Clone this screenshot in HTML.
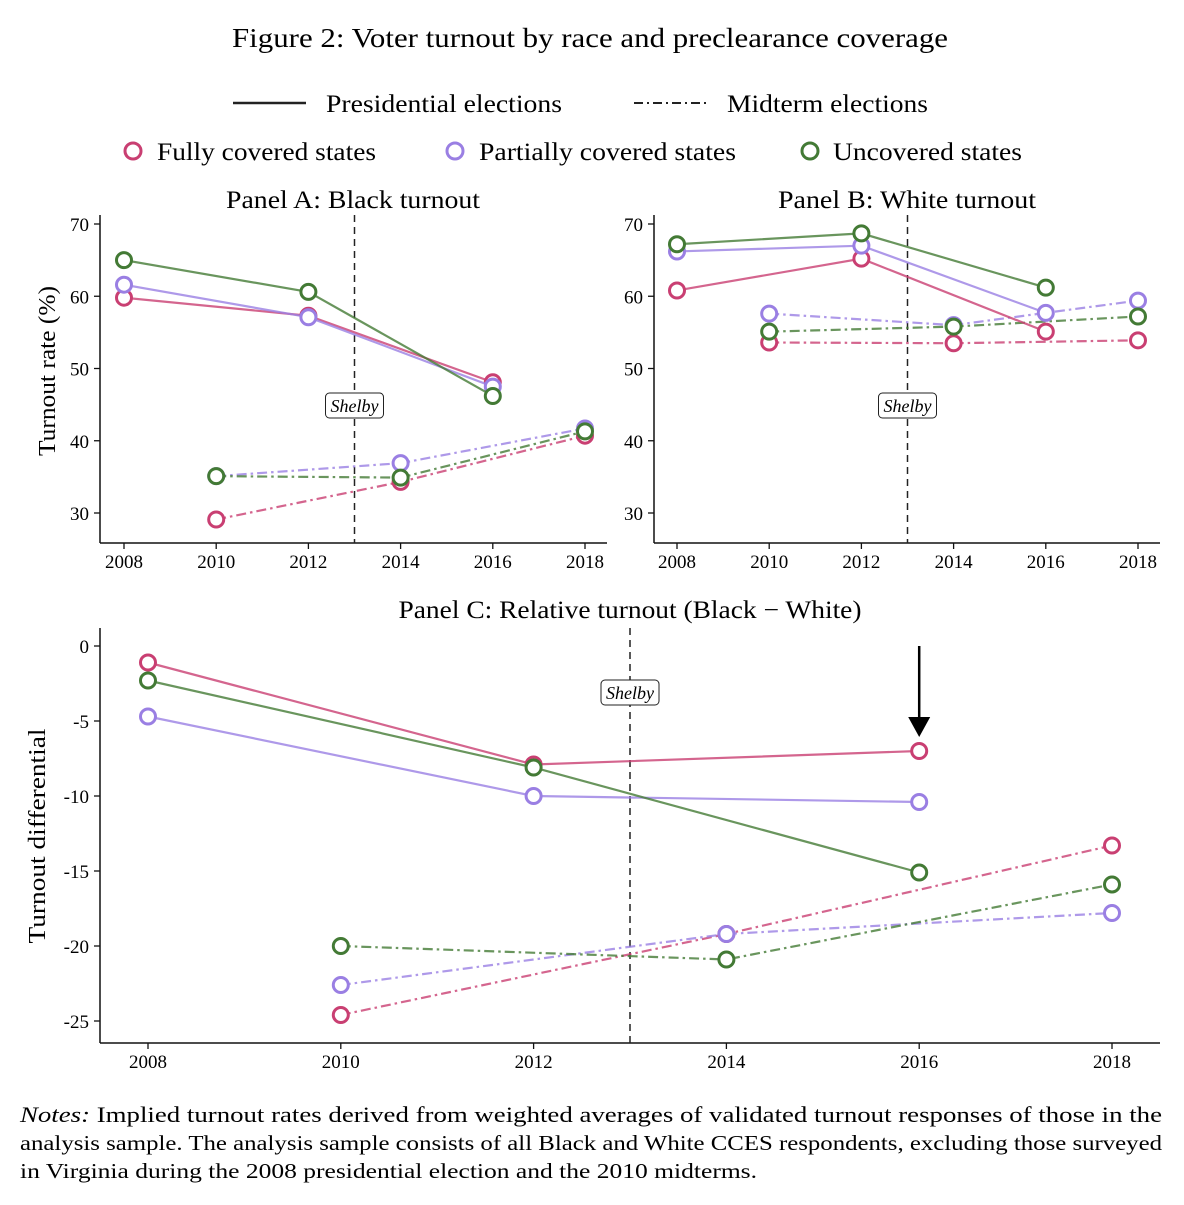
<!DOCTYPE html>
<html><head><meta charset="utf-8"><style>
body{margin:0;background:#fff;}
svg text{font-family:"Liberation Serif",serif;fill:#000;}
</style></head><body>
<svg id="c" width="1184" height="1200" xmlns="http://www.w3.org/2000/svg">
<text x="232" y="47" font-size="27" textLength="716" lengthAdjust="spacingAndGlyphs">Figure 2: Voter turnout by race and preclearance coverage</text>
<g>
<line x1="233" y1="103" x2="306" y2="103" stroke="#222" stroke-width="2.5"/>
<text x="326" y="112" font-size="25" textLength="236" lengthAdjust="spacingAndGlyphs">Presidential elections</text>
<line x1="634" y1="103" x2="708" y2="103" stroke="#222" stroke-width="2" stroke-dasharray="9,4,2,4"/>
<text x="727" y="112" font-size="25" textLength="201" lengthAdjust="spacingAndGlyphs">Midterm elections</text>
<circle cx="133" cy="151" r="8" fill="#fff" stroke="#c93f72" stroke-width="3"/>
<text x="157" y="160" font-size="25" textLength="219" lengthAdjust="spacingAndGlyphs">Fully covered states</text>
<circle cx="455" cy="151" r="8" fill="#fff" stroke="#9a7fe3" stroke-width="3"/>
<text x="479" y="160" font-size="25" textLength="257" lengthAdjust="spacingAndGlyphs">Partially covered states</text>
<circle cx="810" cy="151" r="8" fill="#fff" stroke="#437a35" stroke-width="3"/>
<text x="833" y="160" font-size="25" textLength="189" lengthAdjust="spacingAndGlyphs">Uncovered states</text>
</g>
<text x="20" y="1122" font-size="22" textLength="1142" lengthAdjust="spacingAndGlyphs"><tspan font-style="italic">Notes:</tspan> Implied turnout rates derived from weighted averages of validated turnout responses of those in the</text>
<text x="20" y="1150" font-size="21" textLength="1142" lengthAdjust="spacingAndGlyphs">analysis sample. The analysis sample consists of all Black and White CCES respondents, excluding those surveyed</text>
<text x="20" y="1178" font-size="21" textLength="737" lengthAdjust="spacingAndGlyphs">in Virginia during the 2008 presidential election and the 2010 midterms.</text>
</svg>
<script>
const presYears=[2008,2012,2016];
const midYears=[2010,2014,2018];
const aPresFully=[59.8,57.3,48.1], aPresPartial=[61.6,57.1,47.5], aPresUnc=[65.0,60.6,46.2];
const aMidFully=[29.1,34.3,40.7], aMidPartial=[35.1,36.9,41.7], aMidUnc=[35.1,34.9,41.3];
const bPresFully=[60.8,65.2,55.1], bPresPartial=[66.2,67.0,57.7], bPresUnc=[67.2,68.7,61.2];
const bMidFully=[53.6,53.5,53.9], bMidPartial=[57.6,56.0,59.4], bMidUnc=[55.1,55.8,57.2];
const cPresFully=[-1.1,-7.9,-7.0], cPresPartial=[-4.7,-10.0,-10.4], cPresUnc=[-2.3,-8.1,-15.1];
const cMidFully=[-24.6,-19.2,-13.3], cMidPartial=[-22.6,-19.2,-17.8], cMidUnc=[-20.0,-20.9,-15.9];
const xTicks=[2008,2010,2012,2014,2016,2018];
const abYTicks=[30,40,50,60,70];
const cYTicks=[0,-5,-10,-15,-20,-25];
const NS='http://www.w3.org/2000/svg';
const svg=document.getElementById('c');
const COL={f:'#c93f72',p:'#9a7fe3',u:'#437a35'};
function el(t,a,p){const e=document.createElementNS(NS,t);for(const k in a)e.setAttribute(k,a[k]);(p||svg).appendChild(e);return e;}
function panel(o){
  const g=el('g',{});
  
  
  const X=y=>o.x0+(y-2008)*(o.x1-o.x0)/10;
  const Y=v=>o.y0+(v-o.v0)*(o.y1-o.y0)/(o.v1-o.v0);
  el('line',{x1:o.L,y1:o.B,x2:o.R,y2:o.B,stroke:'#111','stroke-width':1.5},g);
  el('line',{x1:o.L,y1:o.B,x2:o.L,y2:o.T,stroke:'#111','stroke-width':1.5},g);
  xTicks.forEach(t=>{el('line',{x1:X(t),y1:o.B,x2:X(t),y2:o.B+6,stroke:'#111','stroke-width':1.3},g);
    const tx=el('text',{x:X(t),y:o.B+25,'font-size':19,'text-anchor':'middle'},g);tx.textContent=t;
    });
  o.yt.forEach(t=>{el('line',{x1:o.L-6,y1:Y(t),x2:o.L,y2:Y(t),stroke:'#111','stroke-width':1.3},g);
    const tx=el('text',{x:o.L-11,y:Y(t)+7,'font-size':19,'text-anchor':'end'},g);tx.textContent=t;
    });
  const sx=X(2013);
  el('line',{x1:sx,y1:o.T,x2:sx,y2:o.B,stroke:'#222','stroke-width':1.5,'stroke-dasharray':'7,5'},g);
  el('rect',{x:sx-29,y:o.sy-12,width:58,height:25,rx:4,fill:'#fff',stroke:'#222','stroke-width':1},g);
  const st=el('text',{x:sx,y:o.sy+7,'font-size':18,'font-style':'italic','text-anchor':'middle'},g);st.textContent='Shelby';
  
  const tt=el('text',{x:o.tx-o.tw/2,y:o.ty,'font-size':25,textLength:o.tw,lengthAdjust:'spacingAndGlyphs'},g);tt.textContent=o.title;
  
  const series=[[o.mid[0],'f',1],[o.mid[1],'p',1],[o.mid[2],'u',1],[o.pres[0],'f',0],[o.pres[1],'p',0],[o.pres[2],'u',0]];
  series.forEach(([d,c,m])=>{const yrs=m?midYears:presYears;
    const pl=el('polyline',{points:d.map((v,i)=>X(yrs[i])+','+Y(v)).join(' '),fill:'none',stroke:COL[c],'stroke-opacity':0.8,'stroke-width':2.2},g);
    if(m)pl.setAttribute('stroke-dasharray','10,4,2.5,4');
    
    d.forEach((v,i)=>{const ci=el('circle',{cx:X(yrs[i]),cy:Y(v),r:7.5,fill:'#fff',stroke:COL[c],'stroke-width':3},g);
      });
  });
  return {X,Y,g};
}
panel({name:'panel-a',L:100,R:607,T:215,B:543,x0:124,x1:585,v0:70,y0:224,v1:30,y1:513,yt:abYTicks,sy:405,tx:353,tw:254,ty:208,title:'Panel A: Black turnout',pres:[aPresFully,aPresPartial,aPresUnc],mid:[aMidFully,aMidPartial,aMidUnc]});
panel({name:'panel-b',L:654,R:1160,T:215,B:543,x0:677,x1:1138,v0:70,y0:224,v1:30,y1:513,yt:abYTicks,sy:405,tx:907,tw:258,ty:208,title:'Panel B: White turnout',pres:[bPresFully,bPresPartial,bPresUnc],mid:[bMidFully,bMidPartial,bMidUnc]});
const pc=panel({name:'panel-c',L:100,R:1160,T:628,B:1043,x0:148,x1:1112,v0:0,y0:646,v1:-25,y1:1021,yt:cYTicks,sy:692,tx:630,tw:463,ty:618,title:'Panel C: Relative turnout (Black \u2212 White)',pres:[cPresFully,cPresPartial,cPresUnc],mid:[cMidFully,cMidPartial,cMidUnc]});
const ax=pc.X(2016);
const ar=el('g',{});
el('line',{x1:ax,y1:646,x2:ax,y2:722,stroke:'#000','stroke-width':2.5},ar);
el('polygon',{points:`${ax-11},717 ${ax+11},717 ${ax},737`,fill:'#000'},ar);
function ytitle(txt,x,y,n,w){const t=el('text',{x:x-w/2,y:y,'font-size':24,textLength:w,lengthAdjust:'spacingAndGlyphs',transform:`rotate(-90 ${x} ${y})`});t.textContent=txt;
  }
ytitle('Turnout rate (%)',55,371,'a-y-title',170);
ytitle('Turnout differential',45,836,'c-y-axis-title',215);
</script>
</body></html>
